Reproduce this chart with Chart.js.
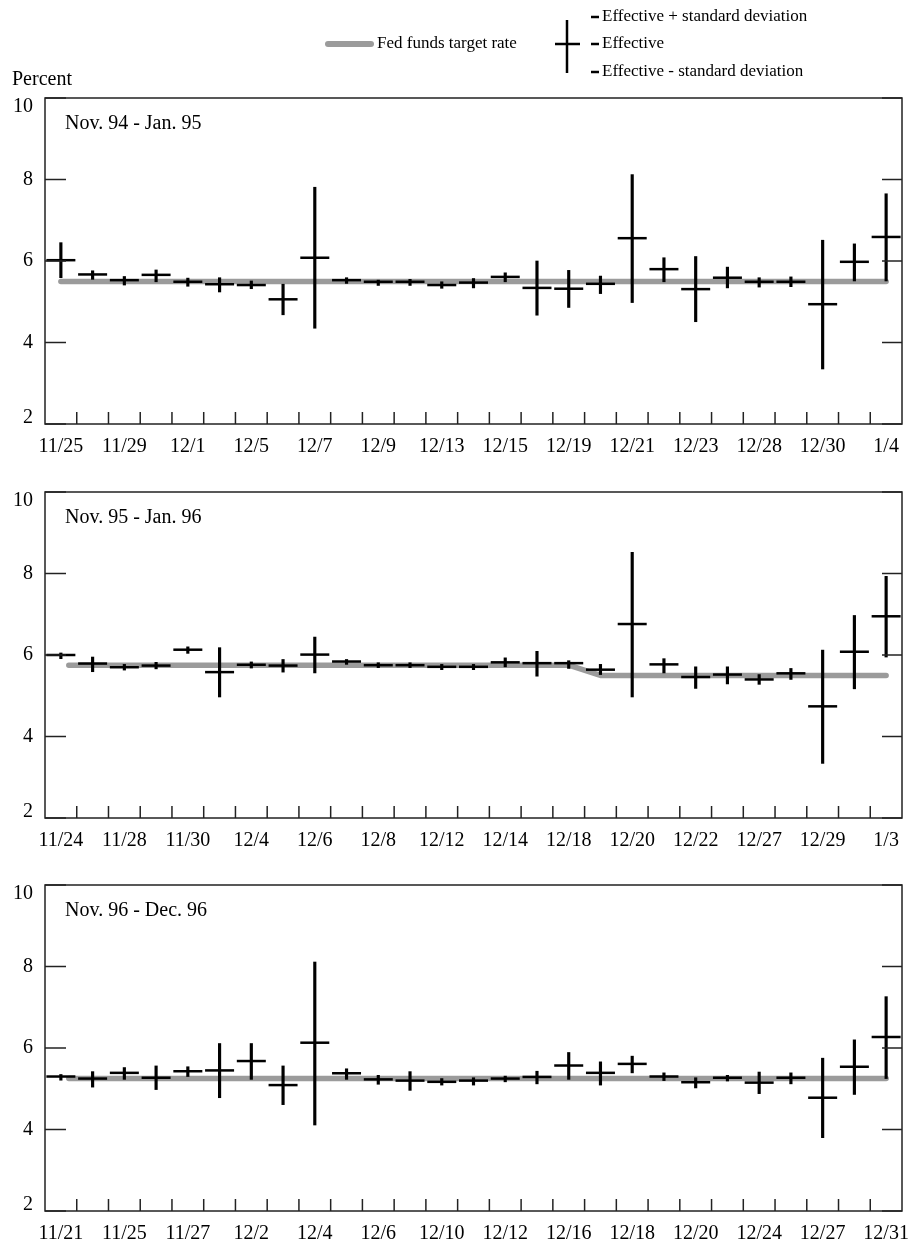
<!DOCTYPE html>
<html><head><meta charset="utf-8">
<script src="https://cdn.jsdelivr.net/npm/chart.js@4.4.0/dist/chart.umd.min.js"></script>
<style>
html,body{margin:0;padding:0;background:#fff;}
#wrap{position:relative;width:914px;height:1242px;overflow:hidden;}
canvas{position:absolute;left:0;}
</style></head><body>
<div id="wrap">
<canvas id="c1" width="914" height="460" style="top:0px"></canvas>
<canvas id="c2" width="914" height="393" style="top:460px"></canvas>
<canvas id="c3" width="914" height="389" style="top:853px"></canvas>
</div>
<script>
// ---------- data ----------
const yTicks = [2, 4, 6, 8, 10];
const legendLabels = ['Fed funds target rate', 'Effective + standard deviation', 'Effective', 'Effective - standard deviation'];
const yAxisTitle = 'Percent';

const p1Title = 'Nov. 94 - Jan. 95';
const p1Labels = ['11/25','11/29','12/1','12/5','12/7','12/9','12/13','12/15','12/19','12/21','12/23','12/28','12/30','1/4'];
const p1Eff = [6.02,5.67,5.53,5.66,5.49,5.43,5.41,5.06,6.08,5.53,5.49,5.49,5.41,5.47,5.61,5.34,5.32,5.44,6.56,5.80,5.31,5.59,5.49,5.49,4.94,5.98,6.59];
const p1Hi  = [6.45,5.76,5.62,5.78,5.58,5.59,5.51,5.43,7.81,5.59,5.53,5.55,5.49,5.57,5.71,6.00,5.77,5.63,8.12,6.08,6.11,5.85,5.59,5.61,6.51,6.42,7.65];
const p1Lo  = [5.59,5.55,5.41,5.49,5.38,5.24,5.32,4.68,4.35,5.45,5.40,5.40,5.33,5.34,5.49,4.67,4.86,5.20,4.98,5.49,4.51,5.34,5.36,5.37,3.35,5.51,5.51];
const p1TgtX = [0, 26];
const p1TgtY = [5.5, 5.5];

const p2Title = 'Nov. 95 - Jan. 96';
const p2Labels = ['11/24','11/28','11/30','12/4','12/6','12/8','12/12','12/14','12/18','12/20','12/22','12/27','12/29','1/3'];
const p2Eff = [6.00,5.79,5.70,5.74,6.13,5.58,5.76,5.74,6.01,5.84,5.75,5.75,5.71,5.71,5.82,5.80,5.80,5.64,6.76,5.77,5.46,5.52,5.40,5.55,4.74,6.08,6.95];
const p2Hi  = [6.05,5.95,5.77,5.82,6.20,6.18,5.83,5.89,6.44,5.89,5.81,5.81,5.77,5.77,5.93,6.09,5.86,5.77,8.52,5.91,5.71,5.71,5.52,5.67,6.12,6.97,7.93];
const p2Lo  = [5.91,5.59,5.63,5.66,6.04,4.97,5.68,5.58,5.56,5.77,5.69,5.69,5.64,5.64,5.71,5.48,5.67,5.52,4.97,5.56,5.18,5.29,5.28,5.40,3.34,5.17,5.95];
const p2TgtX = [0.25, 16, 17, 26];
const p2TgtY = [5.75, 5.75, 5.5, 5.5];

const p3Title = 'Nov. 96 - Dec. 96';
const p3Labels = ['11/21','11/25','11/27','12/2','12/4','12/6','12/10','12/12','12/16','12/18','12/20','12/24','12/27','12/31'];
const p3Eff = [5.30,5.25,5.39,5.27,5.43,5.45,5.68,5.09,6.13,5.38,5.23,5.20,5.17,5.20,5.25,5.29,5.57,5.39,5.61,5.30,5.16,5.27,5.15,5.27,4.78,5.54,6.27];
const p3Hi  = [5.35,5.42,5.52,5.56,5.54,6.11,6.11,5.56,8.11,5.49,5.33,5.42,5.25,5.27,5.31,5.43,5.89,5.66,5.80,5.39,5.27,5.33,5.41,5.39,5.75,6.20,7.26];
const p3Lo  = [5.21,5.04,5.23,4.98,5.30,4.78,5.23,4.61,4.11,5.23,5.11,4.96,5.09,5.09,5.17,5.12,5.23,5.09,5.39,5.20,5.02,5.19,4.88,5.12,3.80,4.86,5.25];
const p3TgtX = [0.25, 26];
const p3TgtY = [5.25, 5.25];

// ---------- styling ----------
const FONT = '"Liberation Serif", "Times New Roman", serif';
const GRAY = '#9b9b9b';

function seg(ctx, x1, y1, x2, y2) { ctx.beginPath(); ctx.moveTo(x1, y1); ctx.lineTo(x2, y2); ctx.stroke(); }

const panelPlugin = {
  id: 'panel',
  afterDraw(chart, args, opts) {
    const { ctx, chartArea: a, scales: { x, y } } = chart;
    ctx.save();
    ctx.strokeStyle = '#222';
    ctx.lineWidth = 1.5;
    ctx.strokeRect(a.left, a.top, a.right - a.left, a.bottom - a.top);
    yTicks.forEach(v => {
      const py = y.getPixelForValue(v);
      seg(ctx, a.left, py, a.left + 21, py);
      seg(ctx, a.right - 20, py, a.right, py);
    });
    for (let k = 0; k < opts.n - 1; k++) {
      const px = x.getPixelForValue(k + 0.5);
      seg(ctx, px, a.bottom, px, a.bottom - 12);
    }
    ctx.fillStyle = '#000';
    ctx.font = '20px ' + FONT;
    ctx.textAlign = 'right';
    ctx.textBaseline = 'middle';
    yTicks.forEach(v => {
      let py = y.getPixelForValue(v);
      py = Math.min(Math.max(py, a.top + 9), a.bottom - 6);
      ctx.fillText(String(v), 33, py);
    });
    ctx.textAlign = 'left';
    ctx.fillText(opts.title, a.left + 20, a.top + 26);
    ctx.restore();
  }
};

const legendPlugin = {
  id: 'fedLegend',
  afterDraw(chart) {
    const ctx = chart.ctx;
    ctx.save();
    ctx.strokeStyle = GRAY; ctx.lineWidth = 6; ctx.lineCap = 'round';
    seg(ctx, 328, 44, 371, 44);
    ctx.fillStyle = '#000';
    ctx.font = '17px ' + FONT;
    ctx.textAlign = 'left'; ctx.textBaseline = 'middle';
    ctx.fillText(legendLabels[0], 377, 44);
    ctx.strokeStyle = '#000'; ctx.lineWidth = 2.5; ctx.lineCap = 'butt';
    seg(ctx, 567, 20, 567, 73);
    seg(ctx, 555, 44, 580, 44);
    [17, 44, 72].forEach((yy, i) => {
      seg(ctx, 591, yy, 599, yy);
      ctx.fillText(legendLabels[i + 1], 602, yy);
    });
    ctx.font = '20px ' + FONT;
    ctx.textBaseline = 'alphabetic';
    ctx.fillText(yAxisTitle, 12, 85);
    ctx.restore();
  }
};

function makeChart(id, eff, hi, lo, tgtX, tgtY, xLabels, title, topPad, xH, extra) {
  const idx = eff.map((_, i) => i);
  return new Chart(document.getElementById(id), {
    type: 'bar',
    data: {
      datasets: [
        { type: 'line', label: legendLabels[0], data: tgtX.map((v, i) => ({ x: v, y: tgtY[i] })),
          borderColor: GRAY, borderWidth: 5.5, borderCapStyle: 'round', borderJoinStyle: 'round',
          pointRadius: 0, tension: 0, order: 3 },
        { type: 'bar', label: 'Effective \u00b1 standard deviation', data: idx.map(i => ({ x: i, y: [lo[i], hi[i]] })),
          backgroundColor: '#000', borderWidth: 0, barThickness: 2.5, order: 2 },
        { type: 'scatter', label: legendLabels[2], data: idx.map(i => ({ x: i, y: eff[i] })),
          pointStyle: 'line', pointRadius: 14.5, pointHoverRadius: 14.5, borderColor: '#000', borderWidth: 2.5, order: 1 }
      ]
    },
    options: {
      responsive: false, animation: false, events: [],
      layout: { autoPadding: false, padding: { top: topPad, left: 0, right: 12, bottom: 0 } },
      plugins: { legend: { display: false }, tooltip: { enabled: false }, panel: { title: title, n: eff.length } },
      scales: {
        x: {
          type: 'linear', min: -0.5, max: 26.5, offset: false,
          grid: { display: false, drawTicks: false }, border: { display: false },
          afterBuildTicks: s => { s.ticks = xLabels.map((_, k) => ({ value: 2 * k })); },
          ticks: { callback: v => (xLabels[v / 2] !== undefined ? xLabels[v / 2] : ''), autoSkip: false, maxRotation: 0,
                   padding: 11, font: { family: FONT, size: 20 }, color: '#000' },
          afterFit: s => { s.height = xH; s.paddingLeft = 0; s.paddingRight = 0; }
        },
        y: {
          min: 2, max: 10,
          grid: { display: false, drawTicks: false }, border: { display: false },
          ticks: { display: false },
          afterFit: s => { s.width = 45; s.paddingTop = 0; s.paddingBottom = 0; }
        }
      }
    },
    plugins: [panelPlugin].concat(extra)
  });
}

makeChart('c1', p1Eff, p1Hi, p1Lo, p1TgtX, p1TgtY, p1Labels, p1Title, 98, 36, [legendPlugin]);
makeChart('c2', p2Eff, p2Hi, p2Lo, p2TgtX, p2TgtY, p2Labels, p2Title, 32, 35, []);
makeChart('c3', p3Eff, p3Hi, p3Lo, p3TgtX, p3TgtY, p3Labels, p3Title, 32, 31, []);
</script>
</body></html>
